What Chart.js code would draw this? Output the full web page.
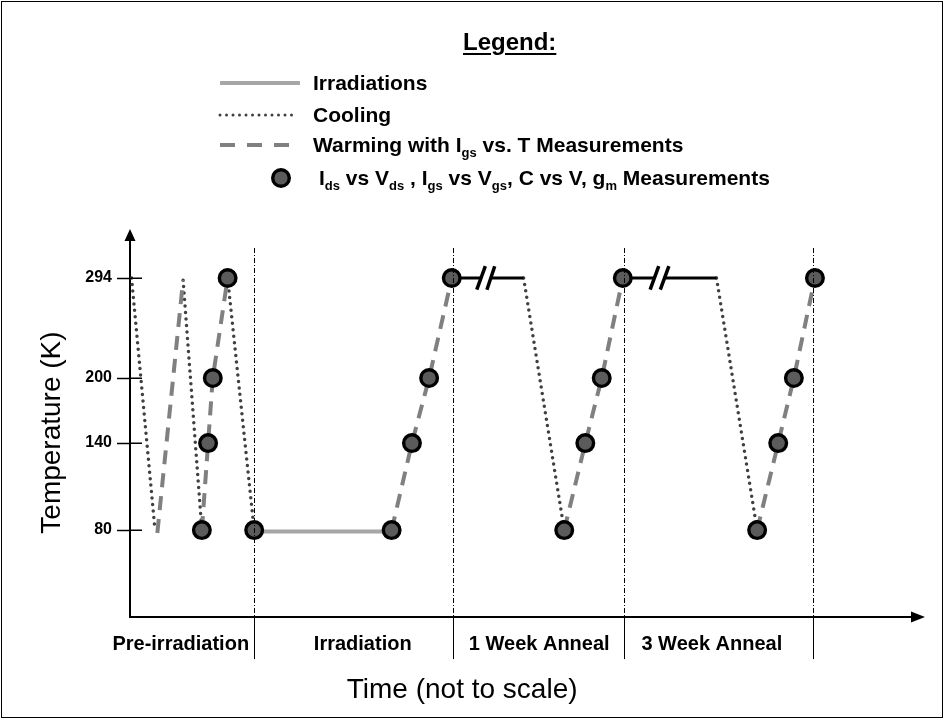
<!DOCTYPE html>
<html><head><meta charset="utf-8">
<script src="https://cdn.jsdelivr.net/npm/chart.js@4.4.1/dist/chart.umd.min.js"></script>
<style>
html,body{margin:0;padding:0;background:#fff;}
#wrap{position:relative;width:944px;height:719px;overflow:hidden;font-family:"Liberation Sans",Arial,Helvetica,sans-serif;}
#c{position:absolute;left:0;top:0;}
#frame{position:absolute;left:1px;top:1px;width:940px;height:715px;border:1px solid #000;pointer-events:none;}
.lg{position:absolute;font-weight:bold;font-size:21px;line-height:24px;color:#000;white-space:nowrap;}
.lg sub{font-size:13px;vertical-align:-5px;line-height:0;}
#lgTitle{font-size:24px;line-height:28px;text-decoration:underline;text-decoration-thickness:2px;text-underline-offset:3px;}
.smp{position:absolute;overflow:visible;}
</style></head>
<body>
<div id="wrap">
<canvas id="c" width="944" height="719"></canvas>
<div id="frame"></div>
<div class="lg" id="lgTitle" style="left:463px;top:28px;">Legend:</div>
<svg class="smp" style="left:216px;top:77px" width="90" height="12"><line x1="4" y1="6" x2="84" y2="6" stroke="#a6a6a6" stroke-width="4"/></svg>
<div class="lg" style="left:313px;top:71px;">Irradiations</div>
<svg class="smp" style="left:216px;top:109px" width="90" height="12"><line x1="4" y1="6" x2="82" y2="6" stroke="#404040" stroke-width="3" stroke-linecap="round" stroke-dasharray="0 6.5"/></svg>
<div class="lg" style="left:313px;top:103px;">Cooling</div>
<svg class="smp" style="left:216px;top:139px" width="90" height="12"><line x1="4" y1="6" x2="74" y2="6" stroke="#808080" stroke-width="4" stroke-dasharray="15 12"/></svg>
<div class="lg" style="left:313px;top:133px;">Warming with I<sub>gs</sub> vs. T Measurements</div>
<svg class="smp" style="left:269px;top:166px" width="24" height="24"><circle cx="12" cy="12" r="8.3" fill="#5b5b5b" stroke="#000" stroke-width="3.4"/></svg>
<div class="lg" style="left:319px;top:166px;">I<sub>ds</sub> vs V<sub>ds</sub> , I<sub>gs</sub> vs V<sub>gs</sub>, C vs V, g<sub>m</sub> Measurements</div>
</div>
<script>
// ---------- data (time in arbitrary "not to scale" units, temperature in K) ----------
const yTicks = [80, 140, 200, 294];
const phaseLabels = ['Pre-irradiation', 'Irradiation', '1 Week Anneal', '3 Week Anneal'];
const phaseLabelT = [6.5, 29.8, 52.4, 74.5];
const phaseBounds = [15.9, 41.4, 63.3, 87.5];

const coolT = [0.2, 3.2, null, 6.8, 9.2, null, 12.5, 15.9, null, 50.4, 55.6, null, 75.1, 80.3];
const coolK = [294, 80, null, 292, 80, null, 294, 80, null, 294, 80, null, 294, 80];

const warmT = [3.5, 6.8, null, 9.2, 10.0, 10.6, 12.5, null, 33.5, 36.1, 38.3, 41.2, null, 55.6, 58.3, 60.4, 63.1, null, 80.3, 83.0, 85.0, 87.7];
const warmK = [78, 292, null, 80, 140, 200, 294, null, 80, 140, 200, 294, null, 80, 140, 200, 294, null, 80, 140, 200, 294];

const irradT = [15.9, 33.5];
const irradK = [79, 79];

const holdT = [41.2, 45.0, null, 46.1, 50.4, null, 63.1, 67.2, null, 68.3, 75.1];
const holdK = [294, 294, null, 294, 294, null, 294, 294, null, 294, 294];

const breakT = [44.4, 45.5, null, 45.7, 46.7, null, 66.6, 67.7, null, 67.9, 69.0];
const breakK = [283, 305, null, 283, 305, null, 283, 305, null, 283, 305];

const measT = [9.2, 10.0, 10.6, 12.5, 15.9, 33.5, 36.1, 38.3, 41.2, 55.6, 58.3, 60.4, 63.1, 80.3, 83.0, 85.0, 87.7];
const measK = [80, 140, 200, 294, 80, 80, 140, 200, 294, 80, 140, 200, 294, 80, 140, 200, 294];

// schematic (not-to-scale) temperature axis: value -> fraction of axis height
const yAnchorK = [20, 80, 140, 200, 294, 322];
const yAnchorFrac = [0, 0.2358, 0.4715, 0.6477, 0.9187, 1];

// ---------- custom piecewise-linear scale ----------
class PiecewiseScale extends Chart.LinearScale {
  _toDec(v) {
    let i = 1;
    while (i < yAnchorK.length - 1 && v > yAnchorK[i]) i++;
    const v0 = yAnchorK[i - 1], v1 = yAnchorK[i], d0 = yAnchorFrac[i - 1], d1 = yAnchorFrac[i];
    return d0 + (v - v0) * (d1 - d0) / (v1 - v0);
  }
  getPixelForValue(value) {
    if (value === null || value === undefined || isNaN(value)) return NaN;
    return this.getPixelForDecimal(this._toDec(+value));
  }
  getValueForPixel(pixel) {
    const d = this.getDecimalForPixel(pixel);
    let i = 1;
    while (i < yAnchorFrac.length - 1 && d > yAnchorFrac[i]) i++;
    const v0 = yAnchorK[i - 1], v1 = yAnchorK[i], d0 = yAnchorFrac[i - 1], d1 = yAnchorFrac[i];
    return v0 + (d - d0) * (v1 - v0) / (d1 - d0);
  }
}
PiecewiseScale.id = 'piecewise';
PiecewiseScale.defaults = Chart.LinearScale.defaults;
Chart.register(PiecewiseScale);

const pts = (T, K) => T.map((t, i) => ({ x: t === null ? null : t, y: K[i] === null ? null : K[i] }));
const isBound = v => phaseBounds.some(b => Math.abs(b - v) < 1e-6);

Chart.defaults.font.family = '"Liberation Sans", Arial, Helvetica, sans-serif';
Chart.defaults.color = '#000';

const axisDecor = {
  id: 'axisDecor',
  afterDraw(chart) {
    const { ctx, chartArea: a, scales } = chart;
    const y = scales.y;
    ctx.save();
    ctx.strokeStyle = '#000';
    ctx.fillStyle = '#000';
    ctx.lineWidth = 2;
    ctx.beginPath(); ctx.moveTo(a.left, a.top + 1); ctx.lineTo(a.left, a.top - 8); ctx.stroke();
    ctx.beginPath(); ctx.moveTo(a.left, a.top - 19); ctx.lineTo(a.left - 5.5, a.top - 7); ctx.lineTo(a.left + 5.5, a.top - 7); ctx.closePath(); ctx.fill();
    ctx.beginPath(); ctx.moveTo(a.right + 14, a.bottom); ctx.lineTo(a.right, a.bottom - 5.5); ctx.lineTo(a.right, a.bottom + 5.5); ctx.closePath(); ctx.fill();
    ctx.lineWidth = 1.5;
    y.ticks.forEach((t, i) => {
      const py = Math.round(y.getPixelForTick(i)) + 0.25;
      ctx.beginPath(); ctx.moveTo(a.left, py); ctx.lineTo(a.left + 12, py); ctx.stroke();
    });
    ctx.restore();
  }
};

new Chart(document.getElementById('c'), {
  type: 'scatter',
  data: {
    datasets: [
      { label: 'Measurements', data: pts(measT, measK), showLine: false, pointRadius: 8.3, pointBorderWidth: 3.4,
        pointBackgroundColor: '#5b5b5b', pointBorderColor: '#000' },
      { label: 'Break', data: pts(breakT, breakK), showLine: true, pointRadius: 0, borderColor: '#000', borderWidth: 3.5 },
      { label: 'Anneal hold', data: pts(holdT, holdK), showLine: true, pointRadius: 0, borderColor: '#000', borderWidth: 3 },
      { label: 'Warming', data: pts(warmT, warmK), showLine: true, pointRadius: 0, borderColor: '#808080', borderWidth: 4, borderDash: [14, 9] },
      { label: 'Cooling', data: pts(coolT, coolK), showLine: true, pointRadius: 0, borderColor: '#404040', borderWidth: 3.5,
        borderDash: [0, 6.5], borderCapStyle: 'round' },
      { label: 'Irradiations', data: pts(irradT, irradK), showLine: true, pointRadius: 0, borderColor: '#a6a6a6', borderWidth: 4 }
    ]
  },
  options: {
    responsive: false,
    animation: false,
    devicePixelRatio: 1,
    events: [],
    layout: { padding: { left: 10, right: 33, top: 248, bottom: 5 } },
    plugins: { legend: { display: false }, tooltip: { enabled: false } },
    scales: {
      x: {
        type: 'linear', min: 0, max: 100,
        afterBuildTicks: s => {
          s.ticks = phaseBounds.concat(phaseLabelT).sort((p, q) => p - q).map(v => ({ value: v }));
        },
        ticks: {
          autoSkip: false, maxRotation: 0, padding: -26.5,
          font: { size: 20, weight: 'bold' }, color: '#000',
          callback: v => { const i = phaseLabelT.findIndex(t => Math.abs(t - v) < 1e-6); return i >= 0 ? phaseLabels[i] : ''; }
        },
        grid: {
          z: 1, lineWidth: 1, tickLength: 42, tickWidth: 1,
          color: c => (c.tick && isBound(c.tick.value)) ? '#000' : 'rgba(0,0,0,0)',
          tickColor: c => (c.tick && isBound(c.tick.value)) ? '#000' : 'rgba(0,0,0,0)'
        },
        border: { display: true, z: 1, color: '#000', width: 2, dash: [5, 2, 1, 2] },
        title: { display: true, text: 'Time (not to scale)' + '\u00A0'.repeat(15), font: { size: 28 }, color: '#000', padding: { top: 43.1, bottom: 7.2 } }
      },
      y: {
        type: 'piecewise', min: 20, max: 322,
        afterBuildTicks: s => { s.ticks = yTicks.map(v => ({ value: v })); },
        ticks: { font: { size: 16, weight: 'bold' }, color: '#000', padding: 5, callback: v => String(v) },
        grid: { drawOnChartArea: false, tickLength: 13, tickColor: '#000', tickWidth: 1.5 },
        border: { display: true, color: '#000', width: 2 },
        title: { display: true, text: 'Temperature (K)', font: { size: 28 }, color: '#000', padding: { top: 25.2, bottom: 11.5 } }
      }
    }
  },
  plugins: [axisDecor]
});
</script>
</body></html>
